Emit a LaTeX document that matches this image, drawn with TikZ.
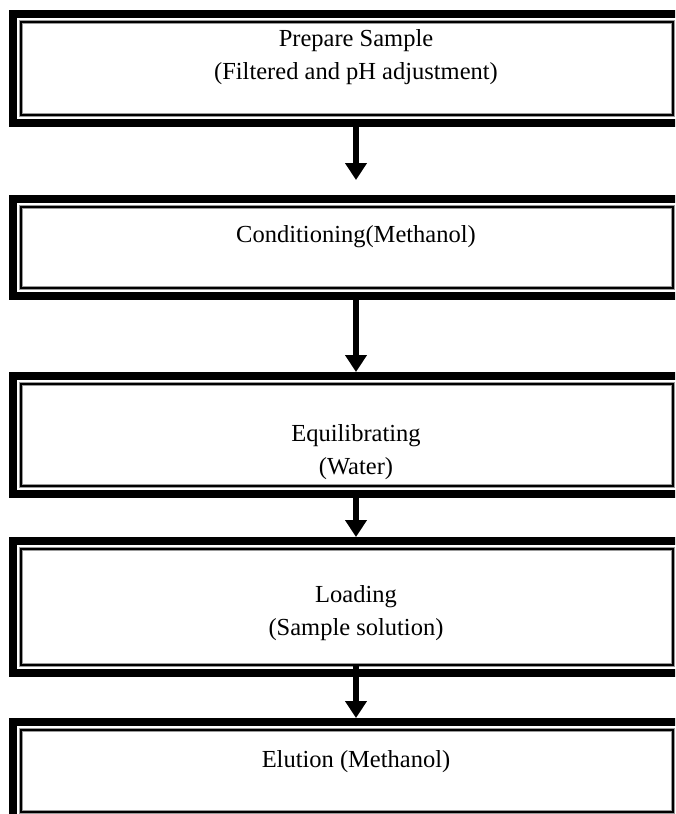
\documentclass[tikz,border=0pt]{standalone}
\usepackage{fontspec}
\setmainfont{Liberation Serif}
\usetikzlibrary{arrows.meta, calc}

\tikzset{
	stepframe/.style={shape=rectangle, draw, line width=8pt, minimum width=686pt},
	innerframe/.style={draw, line width=2pt, preaction={draw=black!40, line width=4pt}},
	steptext/.style={anchor=center, align=center, inner sep=0pt, font=\fontsize{24.5}{33}\selectfont},
	flowarrow/.style={draw, line width=6.5pt, -{Triangle[width=21pt, length=17pt]}}
}

\begin{document}
\begin{tikzpicture}[x=1pt, y=-1pt]
	\useasboundingbox (0, 0) rectangle (675, 814);
	\clip (0, 0) rectangle (675, 814);
	% Boxes (outer thick frame, inner thin frame):
	\node[stepframe, minimum height=109pt] (prep) at (356, 68.5){};
	\node[stepframe, minimum height=97pt] (cond) at (356, 247.5){};
	\node[stepframe, minimum height=118pt] (equil) at (356, 435){};
	\node[stepframe, minimum height=132pt] (load) at (356, 607){};
	\node[stepframe, minimum height=98pt] (elut) at (356, 771){};
	\foreach \b in {prep, cond, equil, load, elut}
		\draw[innerframe] ($(\b.north west)+(12, 12)$) rectangle ($(\b.south east)+(-30, -12)$);
	% Texts:
	\node[steptext] (prepText) at (356, 57){Prepare Sample\\(Filtered and pH adjustment)};
	\node[steptext] (condText) at (356, 237){Conditioning(Methanol)};
	\node[steptext] (equilText) at (356, 452){Equilibrating\\(Water)};
	\node[steptext] (loadText) at (356, 613){Loading\\(Sample solution)};
	\node[steptext] (elutText) at (356, 762){Elution (Methanol)};
	% Arrows:
	\draw[flowarrow, shorten >=15pt] (prep.south) -- (cond.north);
	\draw[flowarrow] (cond.south) -- (equil.north);
	\draw[flowarrow] (equil.south) -- (load.north);
	\draw[flowarrow, shorten <=-12pt] (load.south) -- (elut.north);
\end{tikzpicture}
\end{document}
